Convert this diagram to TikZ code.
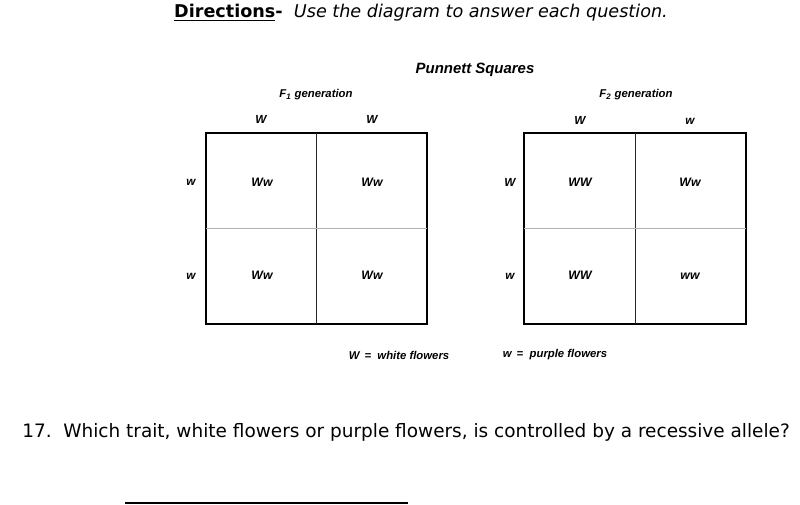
\documentclass[tikz,border=0pt]{standalone}
\usepackage{fontspec}
\setmainfont{Liberation Sans}
\newfontfamily\handfont{DejaVu Sans}
\usepackage{tikz}
\usetikzlibrary{positioning}

\begin{document}
\begin{tikzpicture}[x=0.75pt, y=-0.75pt,
    allele/.style={font=\fontsize{8.8}{10}\selectfont\bfseries\itshape},
    genotype/.style={font=\fontsize{9.2}{11}\selectfont\bfseries\itshape},
    caption/.style={font=\fontsize{8.5}{10}\selectfont\bfseries\itshape},
    outer/.style={line width=1.1pt, black},
    divide/.style={line width=0.7pt, black!85},
    midline/.style={line width=0.7pt, gray!60},
]
  \useasboundingbox (0,0) rectangle (800,505);

  % heading
  \node[font=\handfont\fontsize{13.2}{16}\selectfont] (dirs) at (421,13)
    {\underline{\textbf{Directions}}\textbf{-}\ \ \textit{Use the diagram to answer each question.}};
  \node[font=\fontsize{11.2}{13}\selectfont\bfseries\itshape] (title) at (475,70) {Punnett Squares};

  % F1 square
  \node[caption] (gen1) at (316,95) {F\textsubscript{1} generation};
  \draw[outer] (206,133) rectangle (427,324);
  \draw[divide] (316,133) -- (316,324);
  \draw[midline] (206,228) -- (427,228);
  \node[allele] (p1a) at (261,119) {W};
  \node[allele] (p1b) at (372,119) {W};
  \node[allele] (q1a) at (191,182) {w};
  \node[allele] (q1b) at (191,276) {w};
  \node[genotype] (c11) at (262,182) {Ww};
  \node[genotype] (c12) at (372,182) {Ww};
  \node[genotype] (c21) at (262,275) {Ww};
  \node[genotype] (c22) at (372,275) {Ww};

  % F2 square
  \node[caption] (gen2) at (636,95) {F\textsubscript{2} generation};
  \draw[outer] (524,133) rectangle (746,324);
  \draw[divide] (635,133) -- (635,324);
  \draw[midline] (524,228) -- (746,228);
  \node[allele] (p2a) at (580,120) {W};
  \node[allele] (p2b) at (690,121) {w};
  \node[allele] (q2a) at (510,182) {W};
  \node[allele] (q2b) at (510,276) {w};
  \node[genotype] (d11) at (580,182) {WW};
  \node[genotype] (d12) at (690,182) {Ww};
  \node[genotype] (d21) at (580,275) {WW};
  \node[genotype] (d22) at (690,276) {ww};

  % key
  \node[caption] (keyW) at (399,355) {W\ \,=\ \ white flowers};
  \node[caption] (keyw) at (555,355) {w\ \,=\ \ purple flowers};

  % question
  \node[font=\handfont\fontsize{13.85}{16}\selectfont, anchor=west, inner sep=0pt] (q17) at (22,432)
    {17.\ \ Which trait, white flowers or purple flowers, is controlled by a recessive allele?};
  \coordinate (ansL) at (125,503);
  \coordinate (ansR) at (408,503);
  \draw[line width=0.9pt] (ansL) -- (ansR);
\end{tikzpicture}
\end{document}
